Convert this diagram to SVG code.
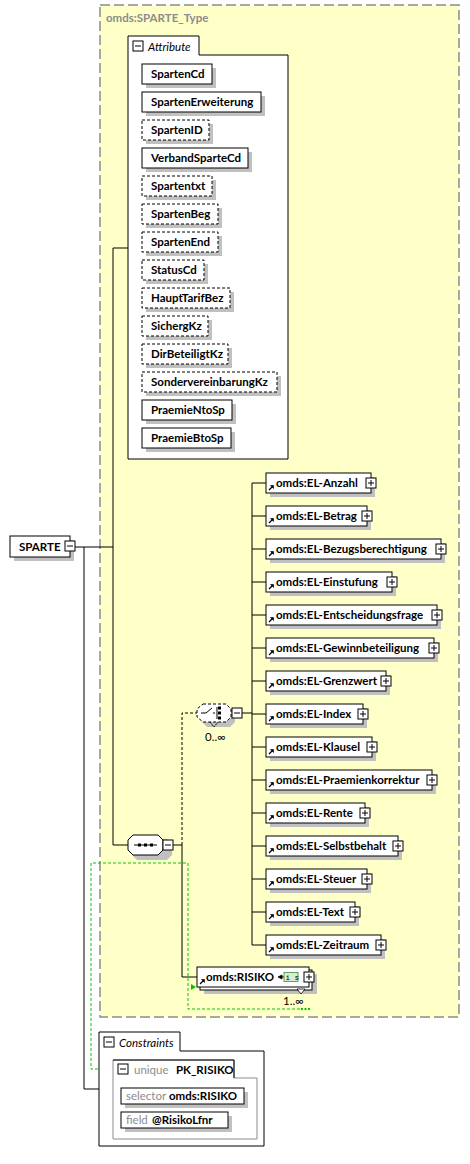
<svg xmlns="http://www.w3.org/2000/svg" width="470" height="1164" viewBox="0 0 470 1164">
<style>
.frame{fill:#ffffc8;stroke:#8c8c8c;stroke-width:1.5;stroke-dasharray:10,4}
.box{fill:#fff;stroke:#000;stroke-width:1}
.dbox{fill:#fff;stroke:#000;stroke-width:1;stroke-dasharray:3,2}
.gbox{fill:#fff;stroke:#8c8c8c;stroke-width:1}
.sh{fill:#c0c0c0}
.t{font-family:Lato,"Liberation Sans",sans-serif;font-weight:bold;font-size:11.5px;fill:#000}
.it{font-family:Lato,"Liberation Sans",sans-serif;font-style:italic;font-size:11.5px;fill:#000}
.g{font-family:Lato,"Liberation Sans",sans-serif;font-size:11.5px;fill:#8c8c8c}
.title{font-family:Lato,"Liberation Sans",sans-serif;font-weight:bold;font-size:11.5px;fill:#8c8c8c}
.ln{fill:none;stroke:#000;stroke-width:1}
.dln{fill:none;stroke:#000;stroke-width:1;stroke-dasharray:3,2}
.grn{fill:none;stroke:#00c800;stroke-width:1;stroke-dasharray:3,2}
.btn{fill:#fff;stroke:#000;stroke-width:1}
</style>
<defs>
<g id="minus"><rect class="btn" x="0" y="0" width="10" height="10"/><path class="ln" d="M2,5H8"/></g>
<g id="plus"><rect class="btn" x="-5" y="-5" width="10" height="10"/><path class="ln" d="M-3,0H3M0,-3V3"/></g>
<g id="ref"><path d="M0,0L4,-4" stroke="#000" stroke-width="1.2"/><path d="M1.5,-4.5H4.5V-1.5Z" fill="#000" stroke="#000" stroke-width="0.6"/></g>
</defs>

<rect class="frame" x="100" y="5" width="359" height="1012"/>
<text class="title" x="106" y="22">omds:SPARTE_Type</text>

<g id="connectors">
<path class="ln" d="M75,547H113M113,248V845M113,248H128M113,845H128"/>
<path class="ln" d="M84,547V1089H99"/>
<path class="ln" d="M173,845H182V977H197"/>
<path class="dln" d="M182,845V713H197"/>
<path class="ln" d="M242,713H252M252,483V945"/>
<path class="ln" d="M252,483H266M252,516H266M252,549H266M252,582H266M252,615H266M252,648H266M252,681H266M252,714H266M252,747H266M252,780H266M252,813H266M252,846H266M252,879H266M252,912H266M252,945H266"/>
<path class="grn" d="M113,1069H91V863H188V1009H300"/>
<path d="M191,984L196,987L191,990Z" fill="#00c800"/>
<rect x="301" y="1008" width="2" height="2" fill="#00c800"/>
<rect x="304.5" y="1008" width="2" height="2" fill="#00c800"/>
<rect x="308" y="1008" width="2" height="2" fill="#00c800"/>
</g>

<g id="SPARTE">
<rect class="sh" x="14" y="540" width="60" height="21"/>
<rect class="box" x="10" y="536" width="60" height="21"/>
<text class="t" x="19" y="551">SPARTE</text>
<use href="#minus" x="65" y="541"/>
</g>

<g id="Attribute">
<path class="box" d="M128,459V36H199V55H288V459Z"/>
<use href="#minus" x="133" y="41"/>
<text class="it" x="148" y="51">Attribute</text>
</g>

<g id="attr-SpartenCd"><rect class="sh" x="146" y="68" width="70" height="20"/><rect class="box" x="142" y="64" width="70" height="20"/><text class="t" x="151" y="78">SpartenCd</text></g>
<g id="attr-SpartenErweiterung"><rect class="sh" x="146" y="96" width="119" height="20"/><rect class="box" x="142" y="92" width="119" height="20"/><text class="t" x="151" y="106">SpartenErweiterung</text></g>
<g id="attr-SpartenID"><rect class="sh" x="146" y="124" width="67" height="20"/><rect class="dbox" x="142" y="120" width="67" height="20"/><text class="t" x="151" y="134">SpartenID</text></g>
<g id="attr-VerbandSparteCd"><rect class="sh" x="146" y="152" width="106" height="20"/><rect class="box" x="142" y="148" width="106" height="20"/><text class="t" x="151" y="162">VerbandSparteCd</text></g>
<g id="attr-Spartentxt"><rect class="sh" x="146" y="180" width="70" height="20"/><rect class="dbox" x="142" y="176" width="70" height="20"/><text class="t" x="151" y="190">Spartentxt</text></g>
<g id="attr-SpartenBeg"><rect class="sh" x="146" y="208" width="76" height="20"/><rect class="dbox" x="142" y="204" width="76" height="20"/><text class="t" x="151" y="218">SpartenBeg</text></g>
<g id="attr-SpartenEnd"><rect class="sh" x="146" y="236" width="76" height="20"/><rect class="dbox" x="142" y="232" width="76" height="20"/><text class="t" x="151" y="246">SpartenEnd</text></g>
<g id="attr-StatusCd"><rect class="sh" x="146" y="264" width="62" height="20"/><rect class="dbox" x="142" y="260" width="62" height="20"/><text class="t" x="151" y="274">StatusCd</text></g>
<g id="attr-HauptTarifBez"><rect class="sh" x="146" y="292" width="88" height="20"/><rect class="dbox" x="142" y="288" width="88" height="20"/><text class="t" x="151" y="302">HauptTarifBez</text></g>
<g id="attr-SichergKz"><rect class="sh" x="146" y="320" width="66" height="20"/><rect class="dbox" x="142" y="316" width="66" height="20"/><text class="t" x="151" y="330">SichergKz</text></g>
<g id="attr-DirBeteiligtKz"><rect class="sh" x="146" y="348" width="86" height="20"/><rect class="dbox" x="142" y="344" width="86" height="20"/><text class="t" x="151" y="358">DirBeteiligtKz</text></g>
<g id="attr-SondervereinbarungKz"><rect class="sh" x="146" y="376" width="135" height="20"/><rect class="dbox" x="142" y="372" width="135" height="20"/><text class="t" x="151" y="386">SondervereinbarungKz</text></g>
<g id="attr-PraemieNtoSp"><rect class="sh" x="146" y="404" width="90" height="20"/><rect class="box" x="142" y="400" width="90" height="20"/><text class="t" x="151" y="414">PraemieNtoSp</text></g>
<g id="attr-PraemieBtoSp"><rect class="sh" x="146" y="432" width="89" height="20"/><rect class="box" x="142" y="428" width="89" height="20"/><text class="t" x="151" y="442">PraemieBtoSp</text></g>

<g id="sequence">
<path class="sh" d="M137,839H167L172,844V855L167,860H137L132,855V844Z"/>
<path class="box" d="M133,835H158L163,840V850L158,855H133L128,850V840Z"/>
<path class="ln" d="M134,845H157"/>
<rect x="138" y="843.5" width="3" height="3" fill="#000"/>
<rect x="144" y="843.5" width="3" height="3" fill="#000"/>
<rect x="150" y="843.5" width="3" height="3" fill="#000"/>
<use href="#minus" x="163" y="840"/>
</g>

<g id="choice">
<path class="sh" d="M207,708H230L235,713V722L230,727H207L202,722V713Z"/>
<path class="box" d="M203,704H226L231,709V717L226,722H203L197,717V709Z" style="stroke-dasharray:3,2"/>
<path d="M210,722L214,727L218,722" fill="none" stroke="#000" stroke-dasharray="2,1"/>
<path class="ln" d="M201,713H206L212,708M213,713H215"/>
<path class="ln" d="M217,707V719"/>
<rect x="218" y="706.5" width="3" height="3" fill="#000"/>
<rect x="218" y="711.5" width="3" height="3" fill="#000"/>
<rect x="218" y="716.5" width="3" height="3" fill="#000"/>
<use href="#minus" x="232" y="708"/>
<text class="g" x="205" y="741" style="fill:#000">0..∞</text>
</g>

<g id="EL-Anzahl"><rect class="sh" x="270" y="477" width="105" height="20"/><rect class="box" x="266" y="473" width="105" height="20"/><use href="#ref" x="269" y="490"/><text class="t" x="276" y="487">omds:EL-Anzahl</text><use href="#plus" x="371" y="483"/></g>
<g id="EL-Betrag"><rect class="sh" x="270" y="510" width="101" height="20"/><rect class="box" x="266" y="506" width="101" height="20"/><use href="#ref" x="269" y="523"/><text class="t" x="276" y="520">omds:EL-Betrag</text><use href="#plus" x="367" y="516"/></g>
<g id="EL-Bezugsberechtigung"><rect class="sh" x="270" y="543" width="175" height="20"/><rect class="box" x="266" y="539" width="175" height="20"/><use href="#ref" x="269" y="556"/><text class="t" x="276" y="553">omds:EL-Bezugsberechtigung</text><use href="#plus" x="441" y="549"/></g>
<g id="EL-Einstufung"><rect class="sh" x="270" y="576" width="126" height="20"/><rect class="box" x="266" y="572" width="126" height="20"/><use href="#ref" x="269" y="589"/><text class="t" x="276" y="586">omds:EL-Einstufung</text><use href="#plus" x="392" y="582"/></g>
<g id="EL-Entscheidungsfrage"><rect class="sh" x="270" y="609" width="171" height="20"/><rect class="box" x="266" y="605" width="171" height="20"/><use href="#ref" x="269" y="622"/><text class="t" x="276" y="619">omds:EL-Entscheidungsfrage</text><use href="#plus" x="437" y="615"/></g>
<g id="EL-Gewinnbeteiligung"><rect class="sh" x="270" y="642" width="168" height="20"/><rect class="box" x="266" y="638" width="168" height="20"/><use href="#ref" x="269" y="655"/><text class="t" x="276" y="652">omds:EL-Gewinnbeteiligung</text><use href="#plus" x="434" y="648"/></g>
<g id="EL-Grenzwert"><rect class="sh" x="270" y="675" width="120" height="20"/><rect class="box" x="266" y="671" width="120" height="20"/><use href="#ref" x="269" y="688"/><text class="t" x="276" y="685">omds:EL-Grenzwert</text><use href="#plus" x="386" y="681"/></g>
<g id="EL-Index"><rect class="sh" x="270" y="708" width="97" height="20"/><rect class="box" x="266" y="704" width="97" height="20"/><use href="#ref" x="269" y="721"/><text class="t" x="276" y="718">omds:EL-Index</text><use href="#plus" x="363" y="714"/></g>
<g id="EL-Klausel"><rect class="sh" x="270" y="741" width="106" height="20"/><rect class="box" x="266" y="737" width="106" height="20"/><use href="#ref" x="269" y="754"/><text class="t" x="276" y="751">omds:EL-Klausel</text><use href="#plus" x="372" y="747"/></g>
<g id="EL-Praemienkorrektur"><rect class="sh" x="270" y="774" width="166" height="20"/><rect class="box" x="266" y="770" width="166" height="20"/><use href="#ref" x="269" y="787"/><text class="t" x="276" y="784">omds:EL-Praemienkorrektur</text><use href="#plus" x="432" y="780"/></g>
<g id="EL-Rente"><rect class="sh" x="270" y="807" width="99" height="20"/><rect class="box" x="266" y="803" width="99" height="20"/><use href="#ref" x="269" y="820"/><text class="t" x="276" y="817">omds:EL-Rente</text><use href="#plus" x="365" y="813"/></g>
<g id="EL-Selbstbehalt"><rect class="sh" x="270" y="840" width="132" height="20"/><rect class="box" x="266" y="836" width="132" height="20"/><use href="#ref" x="269" y="853"/><text class="t" x="276" y="850">omds:EL-Selbstbehalt</text><use href="#plus" x="398" y="846"/></g>
<g id="EL-Steuer"><rect class="sh" x="270" y="873" width="101" height="20"/><rect class="box" x="266" y="869" width="101" height="20"/><use href="#ref" x="269" y="886"/><text class="t" x="276" y="883">omds:EL-Steuer</text><use href="#plus" x="367" y="879"/></g>
<g id="EL-Text"><rect class="sh" x="270" y="906" width="89" height="20"/><rect class="box" x="266" y="902" width="89" height="20"/><use href="#ref" x="269" y="919"/><text class="t" x="276" y="916">omds:EL-Text</text><use href="#plus" x="355" y="912"/></g>
<g id="EL-Zeitraum"><rect class="sh" x="270" y="939" width="115" height="20"/><rect class="box" x="266" y="935" width="115" height="20"/><use href="#ref" x="269" y="952"/><text class="t" x="276" y="949">omds:EL-Zeitraum</text><use href="#plus" x="381" y="945"/></g>

<g id="RISIKO">
<rect class="sh" x="204" y="974" width="113" height="20"/>
<rect class="box" x="200" y="970" width="112" height="20"/>
<rect class="box" x="197" y="967" width="112" height="20"/>
<use href="#ref" x="200" y="984"/>
<text class="t" x="206" y="981">omds:RISIKO</text>
<path d="M278,977L282,975V979Z" fill="#000" stroke="#000" stroke-width="0.8"/>
<path class="ln" d="M282,977H284"/>
<rect x="284" y="972.5" width="14" height="9" fill="#d8f0d0" stroke="#3a8a3a" stroke-width="0.8"/>
<text x="285.5" y="980" font-family="Liberation Mono,monospace" font-size="7.5" fill="#000">i s</text>
<path d="M297,989H305L301,994Z" fill="#fff" stroke="#000" stroke-width="0.8"/>
<use href="#plus" x="309" y="977"/>
<text class="g" x="283" y="1005" style="fill:#000">1..∞</text>
</g>

<g id="Constraints">
<path class="box" d="M99,1146V1032H180V1051H264V1146Z"/>
<use href="#minus" x="104" y="1037"/>
<text class="it" x="119" y="1047">Constraints</text>
</g>

<g id="unique-PK_RISIKO">
<path class="gbox" d="M113,1139V1060H234V1078H257V1139Z"/>
<path class="ln" d="M113,1060H234V1078"/>
<use href="#minus" x="118" y="1064"/>
<text class="g" x="134" y="1074">unique</text>
<text class="t" x="176" y="1074">PK_RISIKO</text>
</g>

<g id="selector">
<rect class="sh" x="125" y="1092" width="123" height="16"/>
<rect class="box" x="121" y="1088" width="123" height="16"/>
<text class="g" x="126" y="1100">selector</text>
<text class="t" x="169" y="1100">omds:RISIKO</text>
</g>

<g id="field">
<rect class="sh" x="125" y="1116" width="107" height="16"/>
<rect class="box" x="121" y="1112" width="107" height="16"/>
<text class="g" x="126" y="1124">field</text>
<text class="t" x="152" y="1124">@RisikoLfnr</text>
</g>
</svg>
